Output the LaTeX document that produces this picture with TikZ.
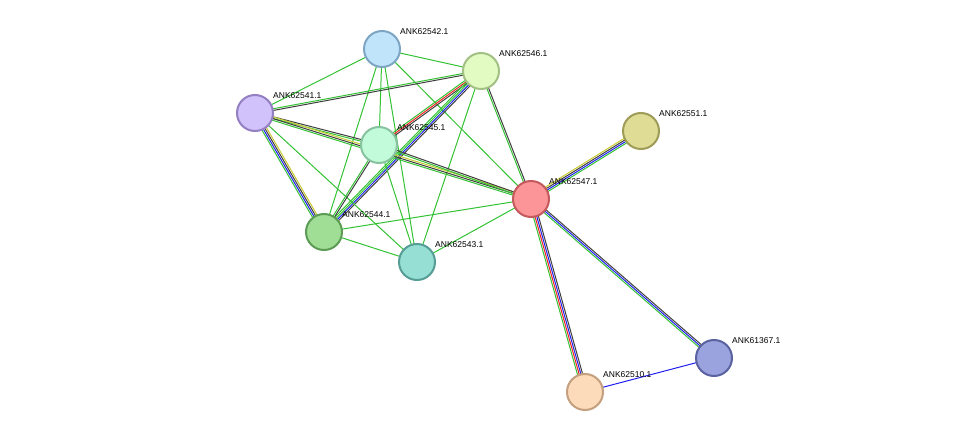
\documentclass[tikz,border=0pt]{standalone}
\usepackage{fontspec}
\setmainfont{Liberation Sans}
\usetikzlibrary{calc}
\definecolor{eg}{HTML}{33C233}
\definecolor{ek}{HTML}{404040}
\definecolor{eb}{HTML}{2020F0}
\definecolor{er}{HTML}{F02020}
\definecolor{ey}{HTML}{C8CC30}
\tikzset{
 prot/.style={circle,minimum size=36pt,inner sep=0pt,line width=2pt},
 lab/.style={font=\fontsize{8.5}{10}\selectfont,anchor=south west,inner sep=0pt},
}
\newcommand{\medge}[4]{% a b n colors
 \foreach \c [count=\i] in {#4}{
  \pgfmathsetmacro{\o}{(\i-(#3+1)/2)*1.7}
  \draw[\c,line width=1pt] ($(#1)!\o pt!90:(#2)$) -- ($(#2)!\o pt!-90:(#1)$);
 }}
\begin{document}
\begin{tikzpicture}[x=1pt,y=-1pt]
\useasboundingbox[fill=white] (0,0) rectangle (975,438);
\coordinate (c42) at (382,49);
\coordinate (c46) at (481,71);
\coordinate (c41) at (255,113);
\coordinate (c45) at (379,145);
\coordinate (c51) at (641,131);
\coordinate (c47) at (531,199);
\coordinate (c44) at (324,232);
\coordinate (c43) at (417,262);
\coordinate (c67) at (714,358);
\coordinate (c10) at (585,392);
\medge{c42}{c46}{1}{eg}
\medge{c42}{c41}{1}{eg}
\medge{c42}{c45}{1}{eg}
\medge{c42}{c44}{1}{eg}
\medge{c42}{c43}{1}{eg}
\medge{c42}{c47}{1}{eg}
\medge{c46}{c41}{2}{eg,ek}
\medge{c46}{c45}{3}{eg,er,ek}
\medge{c46}{c44}{4}{eg,eg,eb,ek}
\medge{c46}{c43}{1}{eg}
\medge{c46}{c47}{2}{eg,ek}
\medge{c41}{c45}{2}{eg,ek}
\medge{c41}{c47}{3}{eg,ek,ey}
\medge{c41}{c44}{4}{eg,eb,ek,ey}
\medge{c41}{c43}{1}{eg}
\medge{c45}{c44}{2}{eg,ek}
\medge{c45}{c43}{1}{eg}
\medge{c45}{c47}{2}{eg,ek}
\medge{c44}{c47}{1}{eg}
\medge{c44}{c43}{1}{eg}
\medge{c43}{c47}{1}{eg}
\medge{c47}{c51}{4}{eg,eb,ek,ey}
\medge{c47}{c10}{4}{eg,er,eb,ek}
\medge{c47}{c67}{3}{eg,eb,ek}
\medge{c10}{c67}{1}{eb}
\foreach \n/\f/\s/\t in {42/C0E4FA/7EA6C4/ANK62542.1,46/E1FBC3/A4C185/ANK62546.1,41/D1C2FB/957FC3/ANK62541.1,45/C2FBD9/88C3A0/ANK62545.1,51/DEDC95/9E9C57/ANK62551.1,47/FC9598/C45A5D/ANK62547.1,44/A0DE96/5D9C55/ANK62544.1,43/96DFD5/569E95/ANK62543.1,67/9AA3DD/5A62A0/ANK61367.1,10/FCDBBB/C4A07E/ANK62510.1}{
 \definecolor{nf}{HTML}{\f}\definecolor{ns}{HTML}{\s}
 \node[prot,fill=nf,draw=ns] (n\n) at (c\n) {};
 \node[lab] (l\n) at ($(c\n)+(18,-14)$) {\t};
}
\end{tikzpicture}
\end{document}
